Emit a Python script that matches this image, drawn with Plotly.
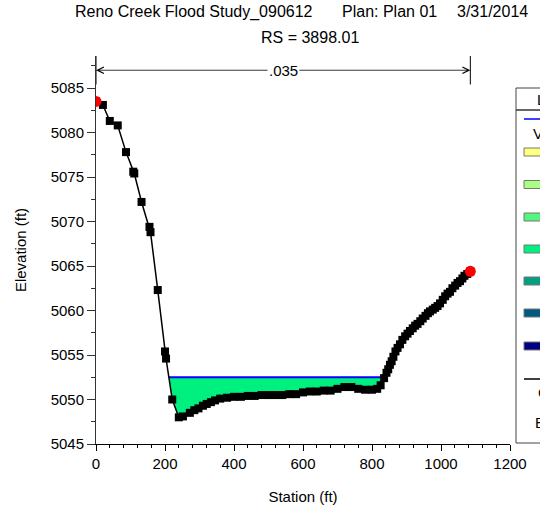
import numpy as np
import plotly.graph_objects as go

# ---------------- data ----------------
station = [0, 20, 40, 63, 87, 108, 111, 132, 155, 158, 179, 200, 203, 221,
           240, 252, 272, 285, 297, 310, 321, 333, 345, 360, 380, 400, 420,
           440, 460, 480, 500, 520, 540, 560, 580, 600, 620, 640, 660, 680,
           700, 720, 740, 760, 780, 800, 815, 825,
           835, 842, 847, 852, 857, 862, 868, 874, 881, 888, 896, 903, 910,
           918, 925, 932, 940, 947, 955, 962, 968, 976, 983, 990, 997, 1005,
           1012, 1019, 1026, 1033, 1041, 1048, 1055, 1062, 1068, 1076, 1085]
elevation = [5083.5, 5083.1, 5081.3, 5080.8, 5077.8, 5075.6, 5075.4, 5072.2,
             5069.4, 5068.8, 5062.3, 5055.4, 5054.6, 5050.0, 5048.0, 5048.1,
             5048.5, 5048.8, 5049.0, 5049.3, 5049.5, 5049.7, 5049.9, 5050.1,
             5050.2, 5050.3, 5050.3, 5050.4, 5050.4, 5050.5, 5050.5, 5050.5,
             5050.5, 5050.6, 5050.6, 5050.8, 5050.9, 5050.9, 5051.0, 5051.0,
             5051.2, 5051.4, 5051.4, 5051.2, 5051.1, 5051.1, 5051.2, 5051.6,
             5052.4, 5053.0, 5053.4, 5053.9, 5054.3, 5054.8, 5055.4, 5055.8,
             5056.2, 5056.7, 5057.1, 5057.4, 5057.7, 5058.0, 5058.3, 5058.5,
             5058.8, 5059.1, 5059.4, 5059.7, 5059.9, 5060.1, 5060.3, 5060.5,
             5060.8, 5061.2, 5061.6, 5061.9, 5062.1, 5062.5, 5062.8, 5063.1,
             5063.3, 5063.6, 5063.9, 5064.1, 5064.4]
bank_stations = [0, 1085]
ws_elev = 5052.5
mannings_n = ".035"
n_label_elev = 5087.0

title_parts = ["Reno Creek Flood Study_090612", "Plan: Plan 01", "3/31/2014"]
subtitle = "RS = 3898.01"
x_title = "Station (ft)"
y_title = "Elevation (ft)"
x_range = [0, 1200]
y_range = [5045, 5088.6]

legend_title = "Legend"
legend_vel_header = "Vel Total (ft/s)"
vel_colors = ["#FFFF80", "#AAFF80", "#55F580", "#00F080", "#00A080", "#005A80", "#000080"]
legend_ground = "Ground"
legend_bank = "Bank Sta"

# ---------------- layout geometry ----------------
W, H = 540, 518
L, R, T, B = 96, 30, 56, 74
PW, PH = W - L - R, H - T - B


def px_x(px):
    return (px - L) / PW


def px_y(py):
    return (H - B - py) / PH


FONT = "Liberation Sans, Arial, sans-serif"

sta = np.array(station, float)
elv = np.array(elevation, float)

# water polygon (ground below WS)
below = elv < ws_elev
idx = np.where(below)[0]
i0, i1 = idx[0], idx[-1]
xl = np.interp(ws_elev, [elv[i0], elv[i0 - 1]], [sta[i0], sta[i0 - 1]])
xr = np.interp(ws_elev, [elv[i1], elv[i1 + 1]], [sta[i1], sta[i1 + 1]])
poly_x = [xl] + list(sta[i0:i1 + 1]) + [xr, xl]
poly_y = [ws_elev] + list(elv[i0:i1 + 1]) + [ws_elev, ws_elev]

bank_elev = list(np.interp(bank_stations, sta, elv))

fig = go.Figure()
fig.add_trace(go.Scatter(x=poly_x, y=poly_y, mode="lines", fill="toself",
                         fillcolor=vel_colors[3], line=dict(width=0),
                         hoverinfo="skip", showlegend=False))
fig.add_trace(go.Scatter(x=[xl, xr], y=[ws_elev, ws_elev], mode="lines",
                         line=dict(color="#0000FF", width=2.2), showlegend=False))
fig.add_trace(go.Scatter(x=station, y=elevation, mode="lines+markers",
                         line=dict(color="black", width=1.5),
                         marker=dict(symbol="square", size=8, color="black"),
                         showlegend=False))
fig.add_trace(go.Scatter(x=bank_stations, y=bank_elev, mode="markers",
                         marker=dict(symbol="circle", size=11, color="#FF0000"),
                         showlegend=False))

shapes = []
ann = []

# Manning's n bracket
mid = (bank_stations[0] + bank_stations[1]) / 2
for bs in bank_stations:
    shapes.append(dict(type="line", xref="x", yref="y", x0=bs, x1=bs,
                       y0=5085.4, y1=y_range[1], line=dict(color="black", width=1)))
    ann.append(dict(x=bs, y=n_label_elev, ax=mid, ay=n_label_elev, xref="x", yref="y",
                    axref="x", ayref="y", text="", showarrow=True, arrowhead=5,
                    arrowsize=1.6, arrowwidth=0.8, arrowcolor="black"))
ann.append(dict(x=mid, y=n_label_elev, xref="x", yref="y", text=mannings_n,
                showarrow=False, bgcolor="white", borderpad=1,
                font=dict(family=FONT, size=15, color="black")))

# titles
title_x = [73, 340, 455]
for t, x in zip(title_parts, title_x):
    ann.append(dict(x=px_x(x), y=px_y(12), xref="paper", yref="paper", text=t,
                    showarrow=False, xanchor="left", yanchor="middle",
                    font=dict(family=FONT, size=16, color="black")))
ann.append(dict(x=px_x(310), y=px_y(38), xref="paper", yref="paper", text=subtitle,
                showarrow=False, xanchor="center", yanchor="middle",
                font=dict(family=FONT, size=16, color="black")))

# legend box (cut off by the page edge as in the original)
lx0, lx1 = 516, 640
shapes.append(dict(type="rect", xref="paper", yref="paper", x0=px_x(lx0), x1=px_x(lx1),
                   y0=px_y(443), y1=px_y(88), line=dict(color="#444", width=1),
                   fillcolor="white", layer="below"))
shapes.append(dict(type="line", xref="paper", yref="paper", x0=px_x(lx0), x1=px_x(lx1),
                   y0=px_y(110), y1=px_y(110), line=dict(color="#333", width=1.5)))
ann.append(dict(x=px_x(535), y=px_y(99), xref="paper", yref="paper", text=legend_title,
                showarrow=False, xanchor="left", yanchor="middle",
                font=dict(family=FONT, size=15, color="black")))
shapes.append(dict(type="line", xref="paper", yref="paper", x0=px_x(524), x1=px_x(556),
                   y0=px_y(119), y1=px_y(119), line=dict(color="#0000FF", width=1.5)))
ann.append(dict(x=px_x(531), y=px_y(133), xref="paper", yref="paper", text=legend_vel_header,
                showarrow=False, xanchor="left", yanchor="middle",
                font=dict(family=FONT, size=15, color="black")))
box_centers = [152, 184.5, 217, 249, 281, 313, 346]
for c, yc in zip(vel_colors, box_centers):
    shapes.append(dict(type="rect", xref="paper", yref="paper", x0=px_x(524), x1=px_x(552),
                       y0=px_y(yc + 4), y1=px_y(yc - 4), fillcolor=c,
                       line=dict(color="#777", width=1)))
shapes.append(dict(type="line", xref="paper", yref="paper", x0=px_x(524), x1=px_x(556),
                   y0=px_y(379), y1=px_y(379), line=dict(color="black", width=1.5)))
ann.append(dict(x=px_x(536), y=px_y(392), xref="paper", yref="paper", text=legend_ground,
                showarrow=False, xanchor="left", yanchor="middle",
                font=dict(family=FONT, size=15, color="black")))
ann.append(dict(x=px_x(533), y=px_y(422), xref="paper", yref="paper", text=legend_bank,
                showarrow=False, xanchor="left", yanchor="middle",
                font=dict(family=FONT, size=15, color="black")))

fig.update_layout(
    width=W, height=H, margin=dict(l=L, r=R, t=T, b=B, pad=0),
    paper_bgcolor="white", plot_bgcolor="white",
    font=dict(family=FONT, size=14, color="black"),
    shapes=shapes, annotations=ann, showlegend=False,
    xaxis=dict(range=x_range, tickmode="linear", tick0=0, dtick=200,
               ticks="outside", ticklen=6, tickwidth=1, tickcolor="black",
               showline=True, linecolor="black", linewidth=1, showgrid=False,
               zeroline=False, tickfont=dict(family=FONT, size=15),
               minor=dict(dtick=40, ticks="outside", ticklen=3, tickcolor="black",
                          showgrid=False),
               title=dict(text=x_title, font=dict(family=FONT, size=15), standoff=20)),
    yaxis=dict(range=y_range, tickmode="linear", tick0=5045, dtick=5,
               ticks="outside", ticklen=8, tickwidth=1, tickcolor="#333",
               showline=True, linecolor="#333", linewidth=1, showgrid=False,
               zeroline=False, tickfont=dict(family=FONT, size=15),
               minor=dict(dtick=2.5, ticks="outside", ticklen=4, tickcolor="#333",
                          showgrid=False),
               title=dict(text=y_title, font=dict(family=FONT, size=15), standoff=20)),
)

fig.write_html("out.html")
